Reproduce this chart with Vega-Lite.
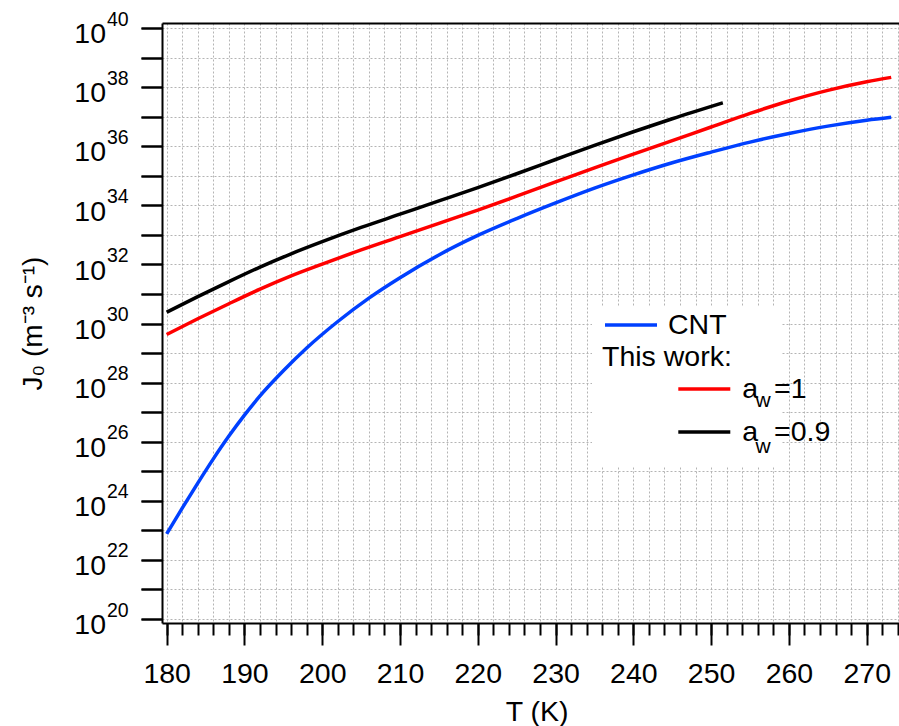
{
  "$schema": "https://vega.github.io/schema/vega-lite/v6.json",
  "width": 737,
  "height": 600,
  "autosize": {"type": "none"},
  "padding": {"left": 162, "top": 23, "right": 0, "bottom": 103},
  "config": {
    "view": {"stroke": null},
    "font": "Liberation Sans",
    "axis": {"labelFont": "Liberation Sans", "titleFont": "Liberation Sans", "labelColor": "black", "titleColor": "black", "tickColor": "black", "domainColor": "black", "labelFlush": false, "labelOverlap": false, "labelBound": false, "titleFontWeight": "normal"},
    "legend": {"labelFont": "Liberation Sans", "titleFont": "Liberation Sans", "labelColor": "black", "titleColor": "black", "titleFontWeight": "normal"}
  },
  "data": {
    "values": [
      {"series": "CNT", "T": 180, "J": 7.59e22},
      {"series": "CNT", "T": 182, "J": 5.62e23},
      {"series": "CNT", "T": 184, "J": 3.98e24},
      {"series": "CNT", "T": 186, "J": 2.63e25},
      {"series": "CNT", "T": 188, "J": 1.55e26},
      {"series": "CNT", "T": 190, "J": 7.94e26},
      {"series": "CNT", "T": 192, "J": 3.55e27},
      {"series": "CNT", "T": 195, "J": 2.51e28},
      {"series": "CNT", "T": 198, "J": 1.48e29},
      {"series": "CNT", "T": 202, "J": 1.17e30},
      {"series": "CNT", "T": 206, "J": 7.24e30},
      {"series": "CNT", "T": 210, "J": 3.55e31},
      {"series": "CNT", "T": 215, "J": 2.09e32},
      {"series": "CNT", "T": 220, "J": 9.55e32},
      {"series": "CNT", "T": 225, "J": 3.55e33},
      {"series": "CNT", "T": 230, "J": 1.20e34},
      {"series": "CNT", "T": 235, "J": 3.80e34},
      {"series": "CNT", "T": 240, "J": 1.07e35},
      {"series": "CNT", "T": 245, "J": 2.75e35},
      {"series": "CNT", "T": 250, "J": 6.31e35},
      {"series": "CNT", "T": 255, "J": 1.38e36},
      {"series": "CNT", "T": 260, "J": 2.69e36},
      {"series": "CNT", "T": 265, "J": 4.79e36},
      {"series": "CNT", "T": 270, "J": 7.59e36},
      {"series": "CNT", "T": 273.15, "J": 9.55e36},
      {"series": "a_w=1", "T": 180, "J": 4.27e29},
      {"series": "a_w=1", "T": 184, "J": 1.45e30},
      {"series": "a_w=1", "T": 188, "J": 4.68e30},
      {"series": "a_w=1", "T": 192, "J": 1.45e31},
      {"series": "a_w=1", "T": 196, "J": 4.07e31},
      {"series": "a_w=1", "T": 200, "J": 1.02e32},
      {"series": "a_w=1", "T": 205, "J": 3.09e32},
      {"series": "a_w=1", "T": 210, "J": 8.71e32},
      {"series": "a_w=1", "T": 215, "J": 2.45e33},
      {"series": "a_w=1", "T": 220, "J": 6.92e33},
      {"series": "a_w=1", "T": 225, "J": 2.04e34},
      {"series": "a_w=1", "T": 230, "J": 6.17e34},
      {"series": "a_w=1", "T": 235, "J": 1.86e35},
      {"series": "a_w=1", "T": 240, "J": 5.37e35},
      {"series": "a_w=1", "T": 245, "J": 1.55e36},
      {"series": "a_w=1", "T": 250, "J": 4.47e36},
      {"series": "a_w=1", "T": 255, "J": 1.29e37},
      {"series": "a_w=1", "T": 260, "J": 3.39e37},
      {"series": "a_w=1", "T": 265, "J": 7.76e37},
      {"series": "a_w=1", "T": 270, "J": 1.51e38},
      {"series": "a_w=1", "T": 273.15, "J": 2.14e38},
      {"series": "a_w=0.9", "T": 180, "J": 2.40e30},
      {"series": "a_w=0.9", "T": 184, "J": 8.13e30},
      {"series": "a_w=0.9", "T": 188, "J": 2.63e31},
      {"series": "a_w=0.9", "T": 192, "J": 8.13e31},
      {"series": "a_w=0.9", "T": 196, "J": 2.29e32},
      {"series": "a_w=0.9", "T": 200, "J": 5.89e32},
      {"series": "a_w=0.9", "T": 205, "J": 1.78e33},
      {"series": "a_w=0.9", "T": 210, "J": 5.01e33},
      {"series": "a_w=0.9", "T": 215, "J": 1.41e34},
      {"series": "a_w=0.9", "T": 220, "J": 3.98e34},
      {"series": "a_w=0.9", "T": 225, "J": 1.17e35},
      {"series": "a_w=0.9", "T": 230, "J": 3.55e35},
      {"series": "a_w=0.9", "T": 235, "J": 1.07e36},
      {"series": "a_w=0.9", "T": 240, "J": 3.09e36},
      {"series": "a_w=0.9", "T": 245, "J": 8.51e36},
      {"series": "a_w=0.9", "T": 251.5, "J": 2.95e37}
    ]
  },
  "layer": [
    {
      "transform": [{"filter": "datum.series !== 'CNT'"}],
      "mark": {"type": "line", "opacity": 0, "strokeWidth": 1},
      "encoding": {
        "x": {"field": "T", "type": "quantitative", "scale": {"domain": [179.4, 274.15], "nice": false, "zero": false},
              "axis": {"orient": "top", "domain": true, "domainWidth": 2, "ticks": false, "labels": false, "grid": false, "title": null}},
        "y": {"field": "J", "type": "quantitative", "scale": {"type": "log", "domain": [7.33e19, 1.479e40], "nice": false}, "axis": null},
        "color": {"field": "series", "type": "nominal",
                  "scale": {"domain": ["a_w=1", "a_w=0.9"], "range": ["#ff0000", "#000000"]},
                  "legend": {"orient": "none", "legendX": 430, "legendY": 283, "fillColor": "white", "padding": 10,
                             "title": ["\u00a0", "This work:\u00a0\u00a0\u00a0\u00a0\u00a0\u00a0\u00a0\u00a0\u00a0\u00a0\u00a0"], "titleFontSize": 28.5, "titleLineHeight": 26.5, "titlePadding": 25.2, "titleAnchor": "start", "titleLimit": 500,
                             "symbolType": "stroke", "symbolSize": 1, "symbolStrokeWidth": 1, "symbolOpacity": 0,
                             "labelExpr": "'w'", "labelFontSize": 21, "labelBaseline": "alphabetic", "labelOffset": 132.5, "rowPadding": 24.1}}
      }
    },
    {
      "transform": [{"filter": "datum.series === 'CNT'"}],
      "mark": {"type": "line", "strokeWidth": 3.5, "interpolate": "monotone"},
      "encoding": {
        "x": {"field": "T", "type": "quantitative", "scale": {"domain": [179.4, 274.15], "nice": false, "zero": false},
              "axis": {"orient": "bottom", "values": [180, 190, 200, 210, 220, 230, 240, 250, 260, 270], "tickSize": 22, "tickWidth": 2,
                       "domain": true, "domainWidth": 2, "grid": false, "labelFontSize": 28.5, "labelBaseline": "alphabetic", "labelPadding": 37.7,
                       "title": "T (K)", "titleFontSize": 28.5, "titleX": 374.7, "titleY": 97, "titleBaseline": "alphabetic", "titleAlign": "center"}},
        "y": {"field": "J", "type": "quantitative", "scale": {"type": "log", "domain": [7.33e19, 1.479e40], "nice": false},
              "axis": {"orient": "left", "values": [1e20, 1e21, 1e22, 1e23, 1e24, 1e25, 1e26, 1e27, 1e28, 1e29, 1e30, 1e31, 1e32, 1e33, 1e34, 1e35, 1e36, 1e37, 1e38, 1e39, 1e40],
                       "tickSize": 21, "tickWidth": 2, "domain": true, "domainWidth": 2, "grid": false,
                       "labelExpr": "round(log(datum.value)/LN10) % 2 === 0 ? '10' : ''",
                       "labelAlign": "right", "labelBaseline": "alphabetic", "labelOffset": 14.7, "labelPadding": 35.5, "labelFontSize": 28.5,
                       "title": "J\u2080 (m\u207b\u00b3 s\u207b\u00b9)", "titleFontSize": 28, "titleAngle": 270, "titleX": -120.3, "titleY": 300,
                       "titleBaseline": "alphabetic", "titleAlign": "center"}},
        "color": {"field": "series", "type": "nominal",
                  "scale": {"domain": ["CNT"], "range": ["#0040ff"]},
                  "legend": {"orient": "none", "legendX": 441, "legendY": 274, "title": null, "padding": 0,
                             "symbolType": "stroke", "symbolSize": 2704, "symbolStrokeWidth": 3.5,
                             "labelFontSize": 28.5, "labelOffset": 9}}
      }
    },
    {
      "transform": [{"filter": "datum.series !== 'CNT'"}],
      "mark": {"type": "line", "strokeWidth": 3.5, "interpolate": "monotone"},
      "encoding": {
        "x": {"field": "T", "type": "quantitative", "scale": {"domain": [179.4, 274.15], "nice": false, "zero": false},
              "axis": {"orient": "bottom", "values": [180, 182, 184, 186, 188, 190, 192, 194, 196, 198, 200, 202, 204, 206, 208, 210, 212, 214, 216, 218, 220, 222, 224, 226, 228, 230, 232, 234, 236, 238, 240, 242, 244, 246, 248, 250, 252, 254, 256, 258, 260, 262, 264, 266, 268, 270, 272, 274],
                       "tickSize": 12, "tickWidth": 2, "domain": false, "labels": false, "title": null,
                       "grid": true, "gridColor": "#b4b4b4", "gridDash": [2, 2], "gridWidth": 1}},
        "y": {"field": "J", "type": "quantitative", "scale": {"type": "log", "domain": [7.33e19, 1.479e40], "nice": false},
              "axis": {"orient": "left", "values": [1e20, 1e21, 1e22, 1e23, 1e24, 1e25, 1e26, 1e27, 1e28, 1e29, 1e30, 1e31, 1e32, 1e33, 1e34, 1e35, 1e36, 1e37, 1e38, 1e39, 1e40],
                       "tickSize": 21, "tickWidth": 2, "domain": false, "title": null,
                       "grid": true, "gridColor": "#b4b4b4", "gridDash": [2, 2], "gridWidth": 1,
                       "labelExpr": "round(log(datum.value)/LN10) % 2 === 0 ? '' + round(log(datum.value)/LN10) : ''",
                       "labelAlign": "left", "labelBaseline": "alphabetic", "labelOffset": -3, "labelPadding": 34.5, "labelFontSize": 19.5}},
        "color": {"field": "series", "type": "nominal",
                  "scale": {"domain": ["a_w=1", "a_w=0.9"], "range": ["#ff0000", "#000000"]},
                  "legend": {"orient": "none", "legendX": 514.3, "legendY": 338, "title": null, "padding": 0,
                             "symbolType": "stroke", "symbolSize": 2704, "symbolStrokeWidth": 3.5,
                             "labelExpr": "datum.label === 'a_w=1' ? 'a\u00a0\u00a0=1' : 'a\u00a0\u00a0=0.9'",
                             "labelFontSize": 28.5, "labelOffset": 10, "rowPadding": -3.55}}
      }
    }
  ],
  "resolve": {"scale": {"color": "independent"}, "axis": {"x": "independent", "y": "independent"}}
}
